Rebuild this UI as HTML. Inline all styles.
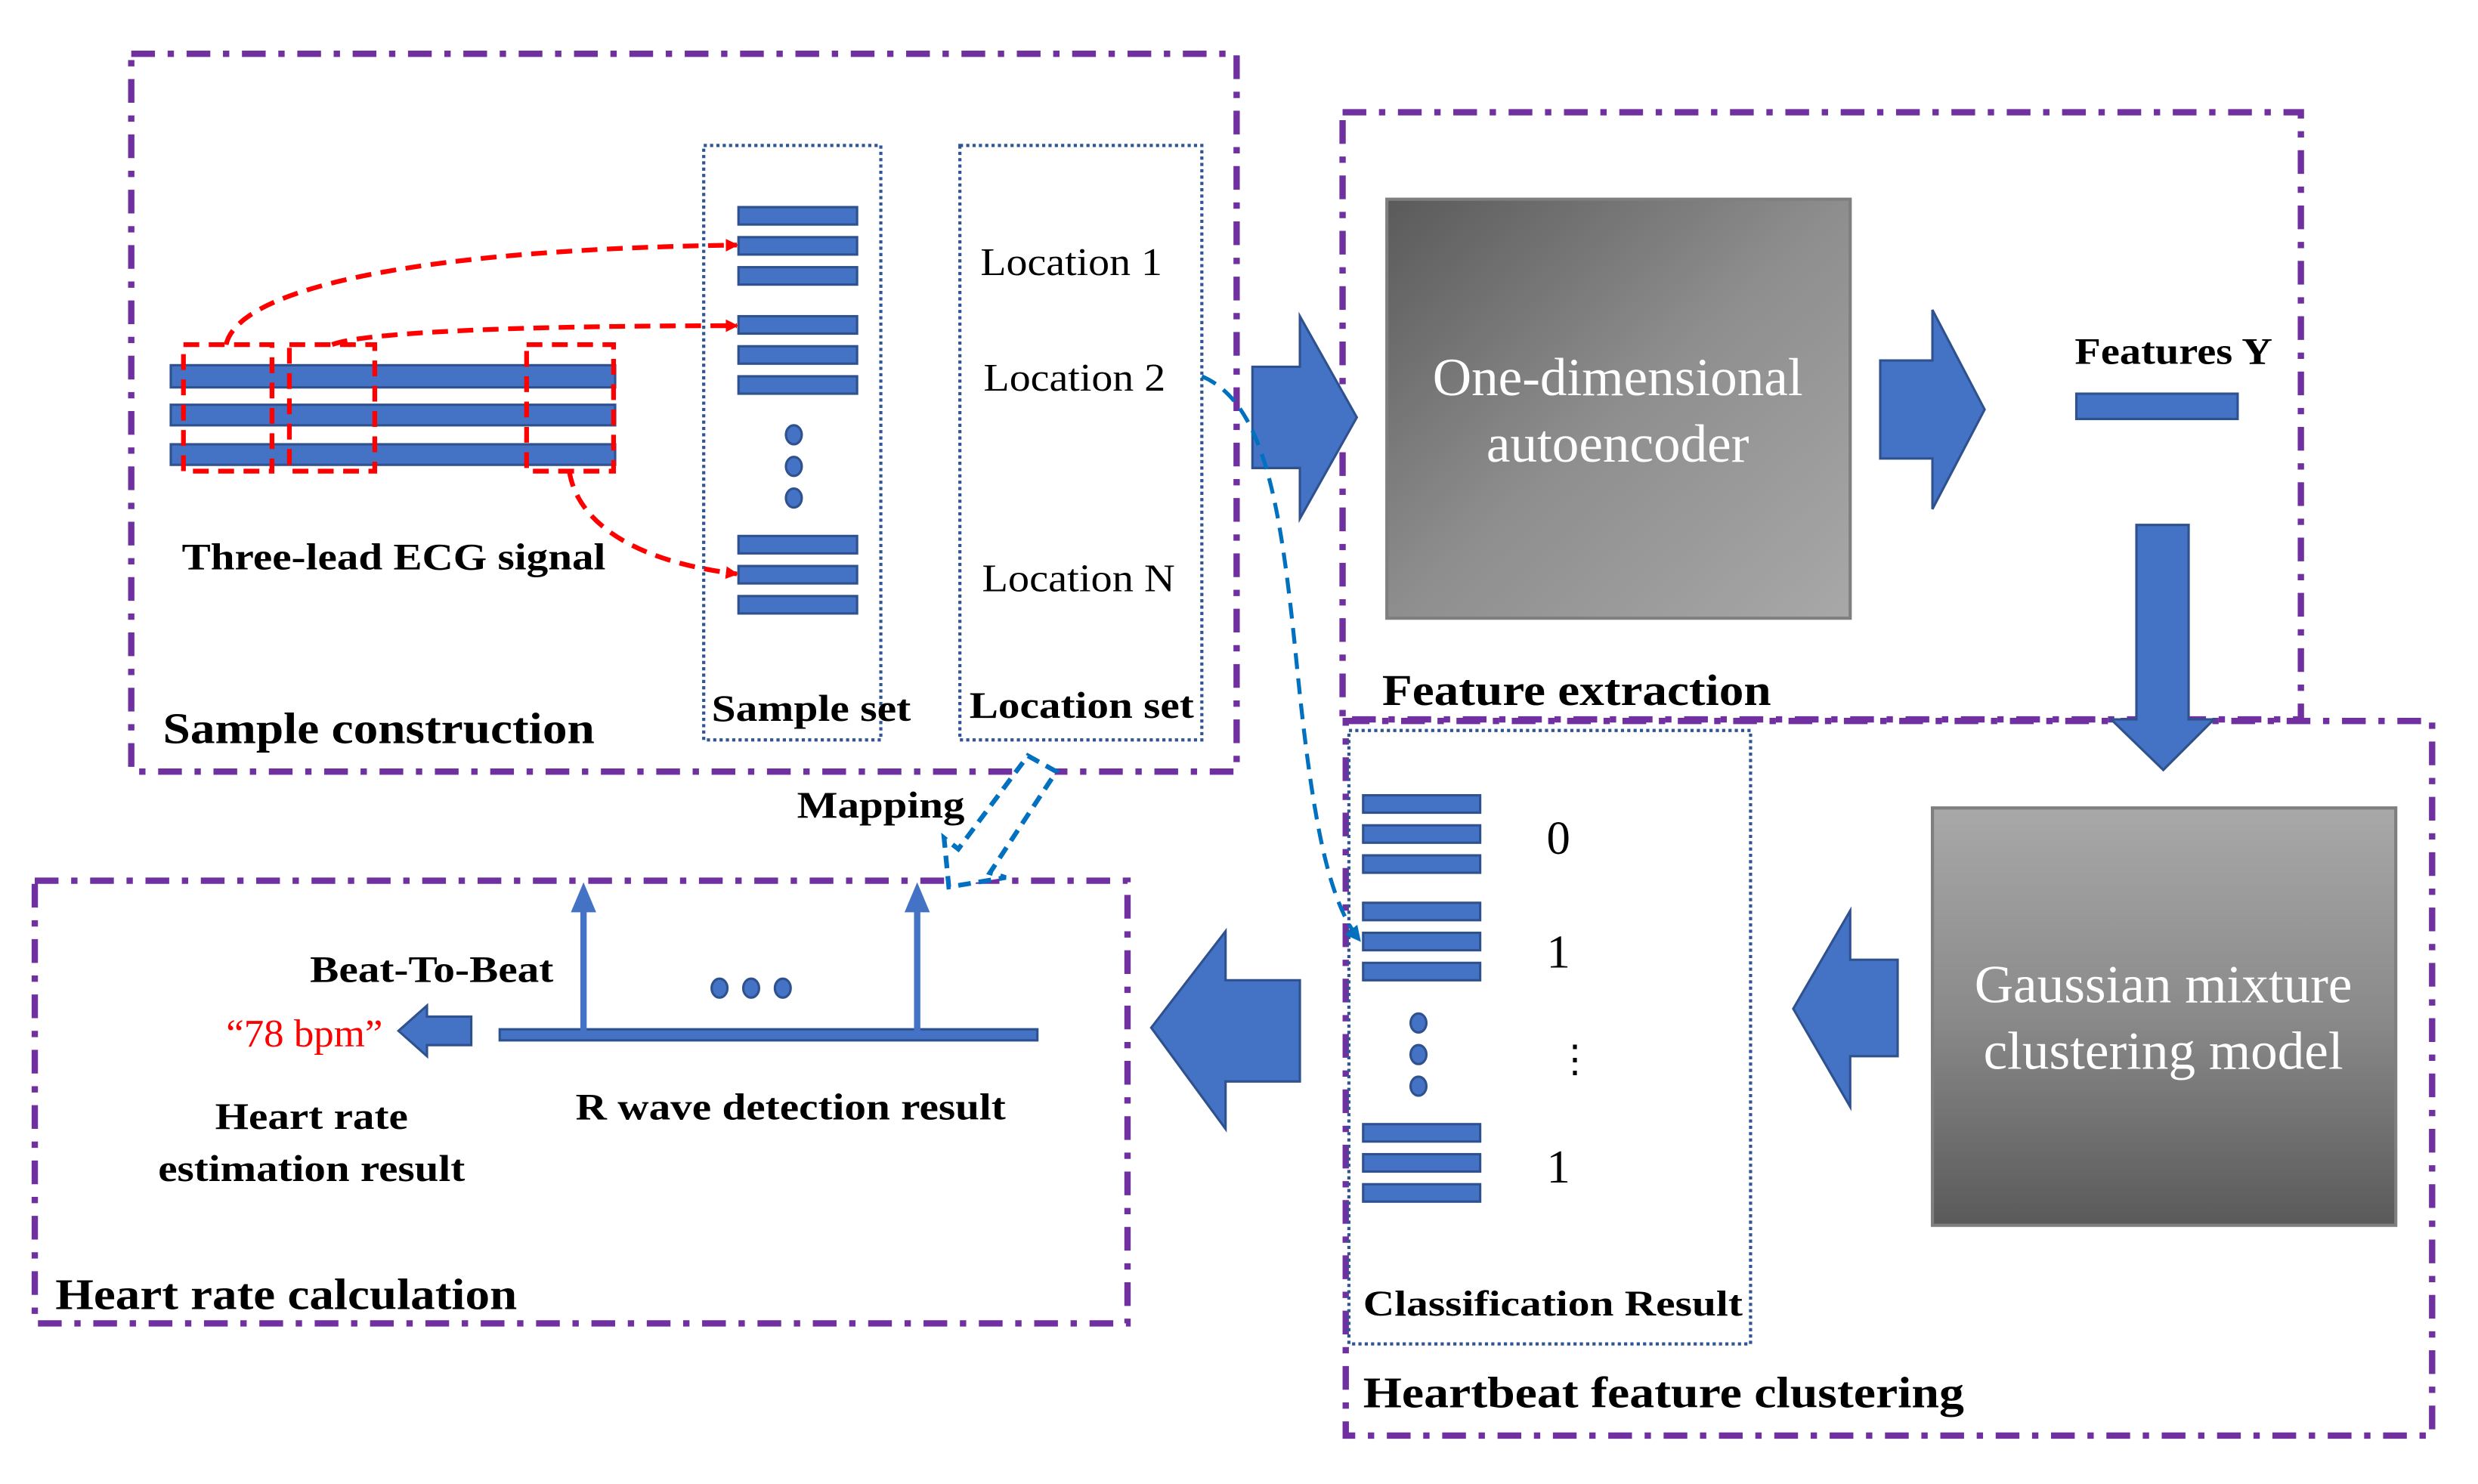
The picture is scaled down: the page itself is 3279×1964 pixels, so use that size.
<!DOCTYPE html>
<html><head><meta charset="utf-8"><style>
html,body{margin:0;padding:0;background:#fff;}
svg{display:block;}
text{font-family:"Liberation Serif",serif;}
.b{font-weight:bold;fill:#000;}
</style></head><body>
<svg width="3279" height="1964" viewBox="0 0 1567 938.6" preserveAspectRatio="none" xmlns="http://www.w3.org/2000/svg">
<defs>
<linearGradient id="g1" x1="0" y1="0" x2="1" y2="1"><stop offset="0" stop-color="#5a5a5a"/><stop offset="0.5" stop-color="#8e8e8e"/><stop offset="1" stop-color="#a8a8a8"/></linearGradient>
<linearGradient id="g2" x1="0" y1="0" x2="0" y2="1"><stop offset="0" stop-color="#a8a8a8"/><stop offset="0.5" stop-color="#8a8a8a"/><stop offset="1" stop-color="#5a5a5a"/></linearGradient>
<marker id="ar" markerWidth="8" markerHeight="8" refX="7" refY="4" orient="auto" markerUnits="userSpaceOnUse"><path d="M0,0 L8,4 L0,8z" fill="#f00"/></marker>
<marker id="ab" markerWidth="10" markerHeight="10" refX="9" refY="5" orient="auto" markerUnits="userSpaceOnUse"><path d="M0,0 L10,5 L0,10z" fill="#0070c0"/></marker>
</defs>
<g fill="none" stroke="#7030a0" stroke-width="4" stroke-dasharray="15 8 4 8">
<rect x="83" y="34" width="699" height="454"/>
<rect x="849" y="71" width="606" height="384"/>
<rect x="851" y="456" width="687" height="452"/>
<rect x="22" y="557" width="691" height="280"/>
</g>
<g fill="none" stroke="#2f5597" stroke-width="2" stroke-dasharray="2 2">
<rect x="445" y="92" width="112" height="376"/>
<rect x="607" y="92" width="153" height="376"/>
<rect x="853" y="462" width="254" height="388"/>
</g>
<g fill="#4472c4" stroke="#2f528f" stroke-width="1.5">
<rect x="108" y="231" width="281" height="14"/>
<rect x="108" y="256" width="281" height="13"/>
<rect x="108" y="281" width="281" height="13"/>
<rect x="467" y="131" width="75" height="11"/><rect x="467" y="150" width="75" height="11"/><rect x="467" y="169" width="75" height="11"/>
<rect x="467" y="200" width="75" height="11"/><rect x="467" y="219" width="75" height="11"/><rect x="467" y="238" width="75" height="11"/>
<rect x="467" y="339" width="75" height="11"/><rect x="467" y="358" width="75" height="11"/><rect x="467" y="377" width="75" height="11"/>
<ellipse cx="502" cy="275" rx="5" ry="6"/><ellipse cx="502" cy="295" rx="5" ry="6"/><ellipse cx="502" cy="315" rx="5" ry="6"/>
<rect x="862" y="503" width="74" height="11"/><rect x="862" y="522" width="74" height="11"/><rect x="862" y="541" width="74" height="11"/>
<rect x="862" y="571" width="74" height="11"/><rect x="862" y="590" width="74" height="11"/><rect x="862" y="609" width="74" height="11"/>
<rect x="862" y="711" width="74" height="11"/><rect x="862" y="730" width="74" height="11"/><rect x="862" y="749" width="74" height="11"/>
<ellipse cx="897" cy="647" rx="5" ry="6"/><ellipse cx="897" cy="667" rx="5" ry="6"/><ellipse cx="897" cy="687" rx="5" ry="6"/>
<rect x="1313" y="249" width="102" height="16"/>
<path d="M792,232 L822,232 L822,200 L858,264 L822,328 L822,296 L792,296z"/>
<path d="M1189,228 L1222,228 L1222,196 L1255,259 L1222,322 L1222,290 L1189,290z"/>
<path d="M1351,332 L1384,332 L1384,455 L1400,455 L1368,487 L1335,455 L1351,455z"/>
<path d="M1200,607 L1170,607 L1170,576 L1134,638 L1170,700 L1170,668 L1200,668z"/>
<path d="M822,620 L775,620 L775,589 L728,650 L775,714 L775,684 L822,684z"/>
<path d="M298,643 L270,643 L270,636 L252,652 L270,668 L270,661 L298,661z"/>
<rect x="316" y="651" width="340" height="7"/>
<ellipse cx="455" cy="625" rx="5" ry="6"/><ellipse cx="475" cy="625" rx="5" ry="6"/><ellipse cx="495" cy="625" rx="5" ry="6"/>
</g>
<g stroke="#4472c4" stroke-width="4"><line x1="369" y1="652" x2="369" y2="575"/><line x1="580" y1="652" x2="580" y2="575"/></g>
<g fill="#4472c4"><path d="M361,577 L369,558 L377,577z"/><path d="M572,577 L580,558 L588,577z"/></g>
<g fill="none" stroke="#f00" stroke-width="3" stroke-dasharray="10 6">
<rect x="116" y="218" width="56" height="80"/>
<rect x="183" y="218" width="54" height="80"/>
<rect x="333" y="218" width="55" height="80"/>
<path d="M143,218 C150,185 250,158 466,155" marker-end="url(#ar)"/>
<path d="M210,218 C230,210 330,206 466,206" marker-end="url(#ar)"/>
<path d="M360,298 C365,330 400,355 466,363" marker-end="url(#ar)"/>
</g>
<path d="M760,238 C800,255 810,320 820,420 C830,520 840,570 860,595" fill="none" stroke="#0070c0" stroke-width="2.5" stroke-dasharray="10 6" marker-end="url(#ab)"/>
<path d="M650,478 L668,488 L626,552 L636,555 L600,561 L597,530 L606,537 L650,478z" fill="#fff" stroke="#0070c0" stroke-width="3" stroke-dasharray="8 5"/>
<rect x="877" y="126" width="293" height="265" fill="url(#g1)" stroke="#7f7f7f" stroke-width="2"/>
<rect x="1222" y="511" width="293" height="264" fill="url(#g2)" stroke="#7f7f7f" stroke-width="2"/>
<g fill="#fff" font-size="34" text-anchor="middle">
<text x="1023" y="250">One-dimensional</text>
<text x="1023" y="292">autoencoder</text>
<text x="1368" y="634">Gaussian mixture</text>
<text x="1368" y="676">clustering model</text>
</g>
<g font-size="25" fill="#000">
<text x="620" y="174" textLength="115" lengthAdjust="spacingAndGlyphs">Location 1</text>
<text x="622" y="247" textLength="115" lengthAdjust="spacingAndGlyphs">Location 2</text>
<text x="621" y="374" textLength="122" lengthAdjust="spacingAndGlyphs">Location N</text>
<text x="978" y="540" font-size="30">0</text>
<text x="978" y="612" font-size="30">1</text>
<text x="984" y="678" font-size="24">⋮</text>
<text x="978" y="748" font-size="30">1</text>
<text x="143" y="662" fill="#f00" textLength="99" lengthAdjust="spacingAndGlyphs">“78 bpm”</text>
</g>
<g class="b" font-size="24">
<text x="115" y="360" textLength="268" lengthAdjust="spacingAndGlyphs">Three-lead ECG signal</text>
<text x="103" y="470" font-size="28" textLength="273" lengthAdjust="spacingAndGlyphs">Sample construction</text>
<text x="450" y="456" textLength="126" lengthAdjust="spacingAndGlyphs">Sample set</text>
<text x="613" y="454" textLength="142" lengthAdjust="spacingAndGlyphs">Location set</text>
<text x="874" y="446" font-size="28" textLength="246" lengthAdjust="spacingAndGlyphs">Feature extraction</text>
<text x="1312" y="230" textLength="125" lengthAdjust="spacingAndGlyphs">Features Y</text>
<text x="862" y="832" font-size="23" textLength="240" lengthAdjust="spacingAndGlyphs">Classification Result</text>
<text x="862" y="890" font-size="28" textLength="380" lengthAdjust="spacingAndGlyphs">Heartbeat feature clustering</text>
<text x="35" y="828" font-size="28" textLength="292" lengthAdjust="spacingAndGlyphs">Heart rate calculation</text>
<text x="504" y="517" textLength="106" lengthAdjust="spacingAndGlyphs">Mapping</text>
<text x="196" y="621" textLength="154" lengthAdjust="spacingAndGlyphs">Beat-To-Beat</text>
<text x="136" y="714" textLength="122" lengthAdjust="spacingAndGlyphs">Heart rate</text>
<text x="100" y="747" textLength="194" lengthAdjust="spacingAndGlyphs">estimation result</text>
<text x="364" y="708" textLength="272" lengthAdjust="spacingAndGlyphs">R wave detection result</text>
</g>
</svg>
</body></html>
